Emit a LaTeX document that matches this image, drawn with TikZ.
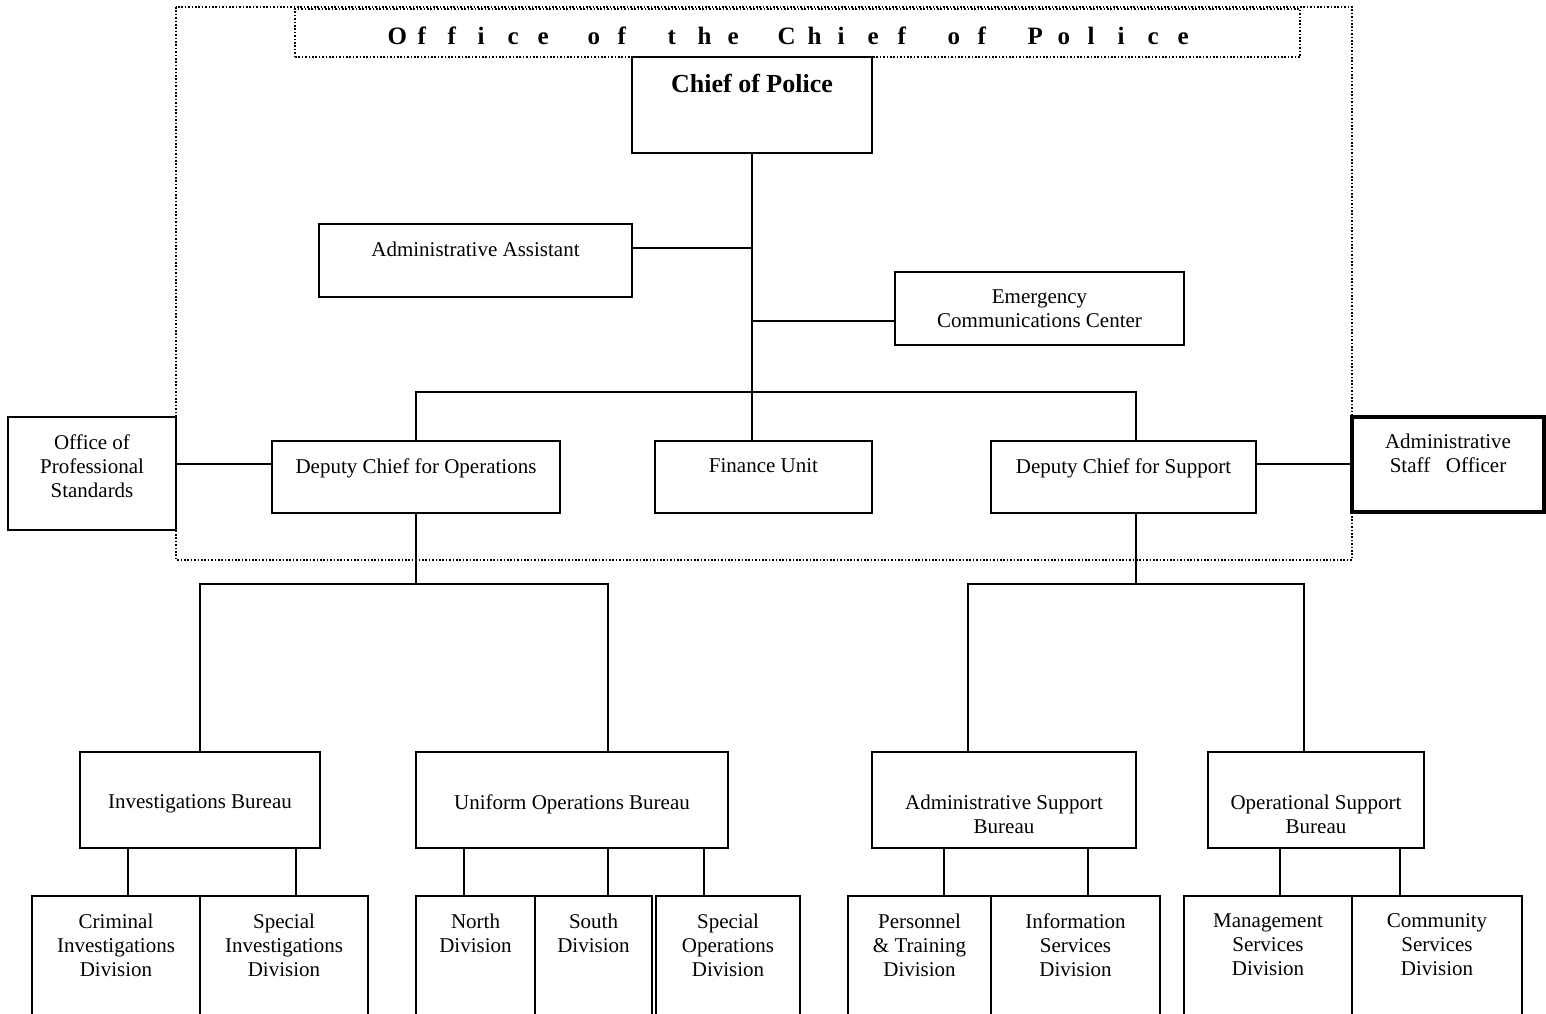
\documentclass[tikz,border=0pt]{standalone}
\usepackage{fontspec}
\setmainfont{Liberation Serif}
\usepackage{tikz}
\usetikzlibrary{positioning}
\usetikzlibrary{fit}
\newcommand{\titleletter}[1]{\makebox[15pt][l]{#1}}
\newcommand{\titlegap}{\hspace{10pt}}

\begin{document}
\begin{tikzpicture}[
    x=0.5pt, y=-0.5pt,
    box line/.style={draw, line width=0.9pt, inner sep=0pt},
    box text/.style={inner sep=0pt, align=center, font=\fontsize{10.5}{12}\selectfont},
    link line/.style={line width=0.8pt},
    dotted frame/.style={line width=0.8pt, dash pattern=on 0.8pt off 0.9pt}
    ]
    \useasboundingbox (0,0) rectangle (1546,1013);

    % office frame and title
    \draw[dotted frame] (176,7) rectangle (1352,560);
    \node[dotted frame, draw, inner sep=0pt, fit={(295,9) (1300,57)}] (titlebox) {};
    \node[inner sep=0pt, yshift=-1.5pt, font=\fontsize{12.5}{14}\selectfont\bfseries] (title) at (titlebox.center)
        {\titleletter{O}\titleletter{f}\titleletter{f}\titleletter{i}\titleletter{c}\titleletter{e}\titlegap\titleletter{o}\titleletter{f}\titlegap\titleletter{t}\titleletter{h}\titleletter{e}\titlegap\titleletter{C}\titleletter{h}\titleletter{i}\titleletter{e}\titleletter{f}\titlegap\titleletter{o}\titleletter{f}\titlegap\titleletter{P}\titleletter{o}\titleletter{l}\titleletter{i}\titleletter{c}\titleletter{e}};

    % chief and office units
    \node[box line, fit={(632,57) (872,153)}] (chief) {};
    \node[box text, font=\fontsize{13}{15}\selectfont\bfseries, below=9pt of chief.north] (chief-t) {Chief of Police};
    \foreach \n/\xa/\ya/\xb/\yb/\t in {
        aa/319/224/632/297/{Administrative Assistant},
        ecc/895/272/1184/345/{Emergency\\Communications Center},
        ops/8/417/176/530/{Office of\\Professional\\Standards},
        dco/272/441/560/513/{Deputy Chief for Operations},
        fin/655/441/872/513/{Finance Unit},
        dcs/991/441/1256/513/{Deputy Chief for Support}}{
        \node[box line, fit={(\xa,\ya) (\xb,\yb)}] (\n) {};
        \node[box text, below=9pt of \n.north] (\n-t) {\t};
    }
    \node[box line, line width=1.6pt, fit={(1352,417) (1544,512)}] (aso) {};
    \node[box text, below=9pt of aso.north] (aso-t) {Administrative\\Staff\ \ \ Officer};

    % bureaus
    \foreach \n/\xa/\xb/\t in {
        ib/80/320/{Investigations Bureau},
        uob/416/728/{Uniform Operations Bureau},
        asb/872/1136/{Administrative Support\\Bureau},
        osb/1208/1424/{Operational Support\\Bureau}}{
        \node[box line, fit={(\xa,752) (\xb,848)}] (\n) {};
        \node[box text, below=21.5pt of \n.north] (\n-t) {\t};
    }

    % divisions
    \foreach \n/\xa/\xb/\t in {
        cid/32/200/{Criminal\\Investigations\\Division},
        sid/200/368/{Special\\Investigations\\Division},
        nd/416/535/{North\\Division},
        sd/535/652/{South\\Division},
        sod/656/800/{Special\\Operations\\Division},
        ptd/848/991/{Personnel\\\& Training\\Division},
        isd/991/1160/{Information\\Services\\Division},
        msd/1184/1352/{Management\\Services\\Division},
        csd/1352/1522/{Community\\Services\\Division}}{
        \node[box line, fit={(\xa,896) (\xb,1024)}] (\n) {};
        \node[box text, below=9pt of \n.north] (\n-t) {\t};
    }

    % junctions
    \coordinate (k1) at (752,248);
    \coordinate (k2) at (752,321);
    \coordinate (k3) at (224,464);
    \coordinate (b1l) at (416,392);
    \coordinate (b1r) at (1136,392);
    \coordinate (b2) at (416,584);
    \coordinate (b2r) at (608,584);
    \coordinate (b3) at (1136,584);
    \coordinate (b3l) at (968,584);
    \coordinate (b3r) at (1304,584);

    % connectors
    \draw[link line] (chief.south) -- (chief.south |- fin.north);
    \draw[link line] (aa.east |- k1) -- (k1);
    \draw[link line] (k2) -- (k2 -| ecc.west);
    \draw[link line] (dco.north) -- (b1l) -- (b1r) -- (b1r |- dcs.north);
    \draw[link line] (k3 -| ops.east) -- (k3 -| dco.west);
    \draw[link line] (k3 -| dcs.east) -- (k3 -| aso.west);
    \draw[link line] (dco.south) -- (b2);
    \draw[link line] (ib.north) |- (b2r) -- (b2r |- uob.north);
    \draw[link line] (b3 |- dcs.south) -- (b3);
    \draw[link line] (b3l |- asb.north) -- (b3l) -- (b3r) -- (b3r |- osb.north);
    \foreach \x/\p in {128/ib, 296/ib, 464/uob, 608/uob, 704/uob, 944/asb, 1088/asb, 1280/osb, 1400/osb}{
        \coordinate (d\x) at (\x,896);
        \draw[link line] (d\x |- \p.south) -- (d\x);
    }
\end{tikzpicture}
\end{document}
